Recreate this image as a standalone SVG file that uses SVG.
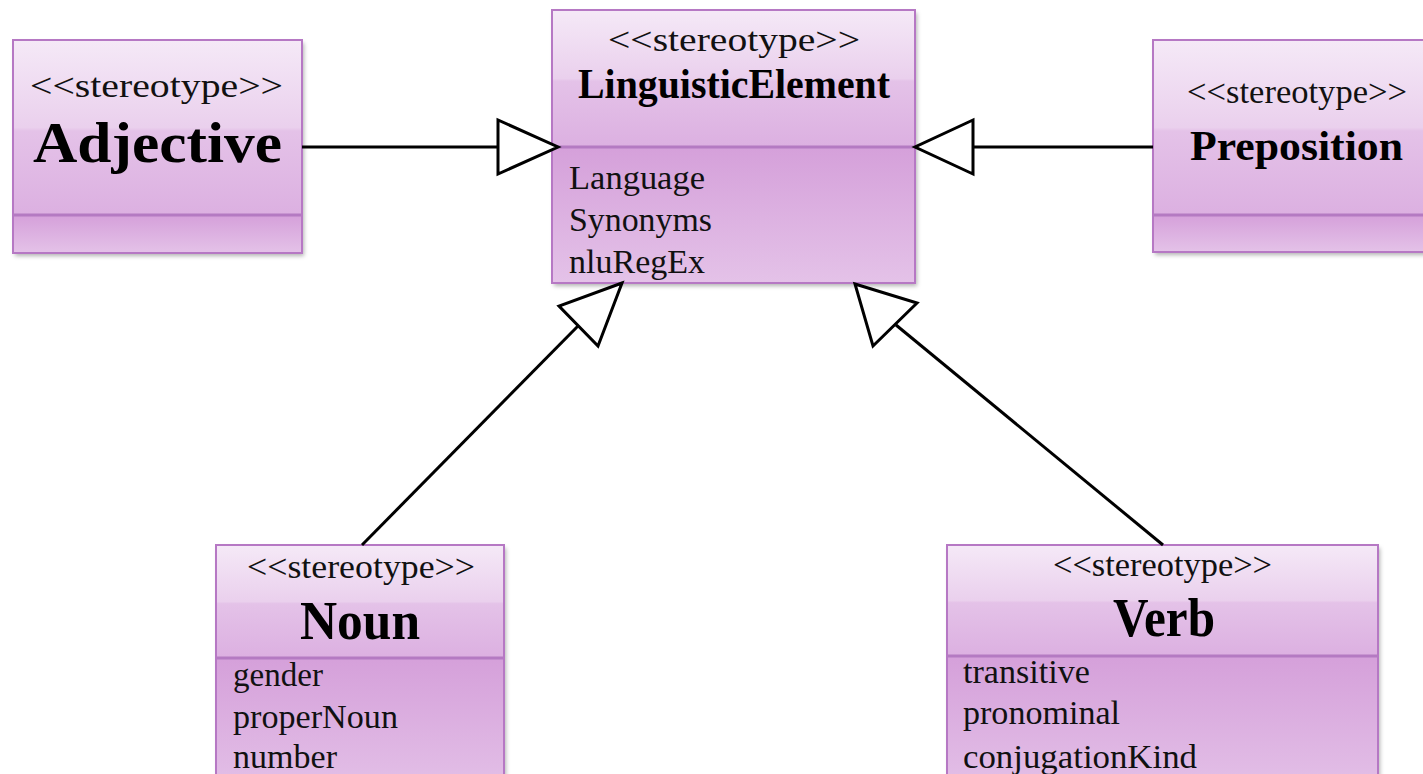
<svg xmlns="http://www.w3.org/2000/svg" width="1423" height="774" viewBox="0 0 1423 774">
  <defs>
    <linearGradient id="head" x1="0" y1="0" x2="0" y2="1">
      <stop offset="0" stop-color="#f5e9f7"/>
      <stop offset="0.5" stop-color="#ead0ed"/>
      <stop offset="0.52" stop-color="#e4c2e8"/>
      <stop offset="1" stop-color="#dcb0e1"/>
    </linearGradient>
    <linearGradient id="body" x1="0" y1="0" x2="0" y2="1">
      <stop offset="0" stop-color="#d5a0da"/>
      <stop offset="1" stop-color="#e4c2e8"/>
    </linearGradient>
    <filter id="sh" x="-5%" y="-5%" width="115%" height="115%">
      <feDropShadow dx="2" dy="3" stdDeviation="2" flood-color="#000" flood-opacity="0.3"/>
    </filter>
  </defs>
  <style>
    .frame { fill: none; stroke: #b678c4; stroke-width: 2; }
    .div { stroke: #b47ac2; stroke-width: 3; }
    .st { font-family: "Liberation Serif", "Times New Roman", serif; font-size: 34px; fill: #111; }
    .nm { font-family: "Liberation Serif", "Times New Roman", serif; font-weight: bold; fill: #000; }
    .at { font-family: "Liberation Serif", "Times New Roman", serif; font-size: 34px; fill: #111; }
    .ln { stroke: #000; stroke-width: 3; fill: none; }
    .tri { fill: #fff; stroke: #000; stroke-width: 3; stroke-linejoin: miter; }
  </style>
  <rect width="1423" height="774" fill="#fff"/>

  <g id="adjective">
    <g filter="url(#sh)">
      <rect x="13" y="40" width="289" height="175" fill="url(#head)"/>
      <rect x="13" y="215" width="289" height="38" fill="url(#body)"/>
    </g>
    <line class="div" x1="13" y1="215" x2="302" y2="215"/>
    <rect class="frame" x="13" y="40" width="289" height="213"/>
    <text class="st" x="30" y="97" textLength="253" lengthAdjust="spacingAndGlyphs">&lt;&lt;stereotype&gt;&gt;</text>
    <text class="nm" x="33" y="162" font-size="58" textLength="249" lengthAdjust="spacingAndGlyphs">Adjective</text>
  </g>

  <g id="linguisticElement">
    <g filter="url(#sh)">
      <rect x="552" y="10" width="363" height="137" fill="url(#head)"/>
      <rect x="552" y="147" width="363" height="136" fill="url(#body)"/>
    </g>
    <line class="div" x1="552" y1="147" x2="915" y2="147"/>
    <rect class="frame" x="552" y="10" width="363" height="273"/>
    <text class="st" x="608" y="51" textLength="252" lengthAdjust="spacingAndGlyphs">&lt;&lt;stereotype&gt;&gt;</text>
    <text class="nm" x="578" y="98" font-size="42" textLength="312" lengthAdjust="spacingAndGlyphs">LinguisticElement</text>
    <text class="at" x="569" y="189" textLength="136" lengthAdjust="spacingAndGlyphs">Language</text>
    <text class="at" x="569" y="231" textLength="143" lengthAdjust="spacingAndGlyphs">Synonyms</text>
    <text class="at" x="569" y="273" textLength="136" lengthAdjust="spacingAndGlyphs">nluRegEx</text>
  </g>

  <g id="preposition">
    <g filter="url(#sh)">
      <rect x="1153" y="40" width="290" height="175" fill="url(#head)"/>
      <rect x="1153" y="215" width="290" height="37" fill="url(#body)"/>
    </g>
    <line class="div" x1="1153" y1="215" x2="1443" y2="215"/>
    <rect class="frame" x="1153" y="40" width="290" height="212"/>
    <text class="st" x="1187" y="103" font-size="31" textLength="220" lengthAdjust="spacingAndGlyphs">&lt;&lt;stereotype&gt;&gt;</text>
    <text class="nm" x="1190" y="160" font-size="42" textLength="213" lengthAdjust="spacingAndGlyphs">Preposition</text>
  </g>

  <g id="noun">
    <g filter="url(#sh)">
      <rect x="216" y="545" width="288" height="113" fill="url(#head)"/>
      <rect x="216" y="658" width="288" height="140" fill="url(#body)"/>
    </g>
    <line class="div" x1="216" y1="658" x2="504" y2="658"/>
    <rect class="frame" x="216" y="545" width="288" height="253"/>
    <text class="st" x="247" y="578" font-size="31" textLength="228" lengthAdjust="spacingAndGlyphs">&lt;&lt;stereotype&gt;&gt;</text>
    <text class="nm" x="300" y="639" font-size="54" textLength="120" lengthAdjust="spacingAndGlyphs">Noun</text>
    <text class="at" x="233" y="686" textLength="90" lengthAdjust="spacingAndGlyphs">gender</text>
    <text class="at" x="233" y="728" textLength="165" lengthAdjust="spacingAndGlyphs">properNoun</text>
    <text class="at" x="233" y="768" textLength="104" lengthAdjust="spacingAndGlyphs">number</text>
  </g>

  <g id="verb">
    <g filter="url(#sh)">
      <rect x="947" y="545" width="431" height="111" fill="url(#head)"/>
      <rect x="947" y="656" width="431" height="142" fill="url(#body)"/>
    </g>
    <line class="div" x1="947" y1="656" x2="1378" y2="656"/>
    <rect class="frame" x="947" y="545" width="431" height="253"/>
    <text class="st" x="1053" y="576" font-size="31" textLength="219" lengthAdjust="spacingAndGlyphs">&lt;&lt;stereotype&gt;&gt;</text>
    <text class="nm" x="1113" y="636" font-size="54" textLength="102" lengthAdjust="spacingAndGlyphs">Verb</text>
    <text class="at" x="963" y="683" textLength="127" lengthAdjust="spacingAndGlyphs">transitive</text>
    <text class="at" x="963" y="724" textLength="157" lengthAdjust="spacingAndGlyphs">pronominal</text>
    <text class="at" x="963" y="768" textLength="234" lengthAdjust="spacingAndGlyphs">conjugationKind</text>
  </g>

  <g id="connectors">
    <line class="ln" x1="302" y1="147" x2="498" y2="147"/>
    <polygon class="tri" points="498,120 498,174 558,147"/>
    <line class="ln" x1="1153" y1="147" x2="973" y2="147"/>
    <polygon class="tri" points="973,120 973,174 915,147"/>
    <line class="ln" x1="362" y1="545" x2="578" y2="326"/>
    <polygon class="tri" points="622,283 559,306 598,346"/>
    <line class="ln" x1="1163" y1="545" x2="896" y2="325"/>
    <polygon class="tri" points="855,284 917,303 873,346"/>
  </g>
</svg>
